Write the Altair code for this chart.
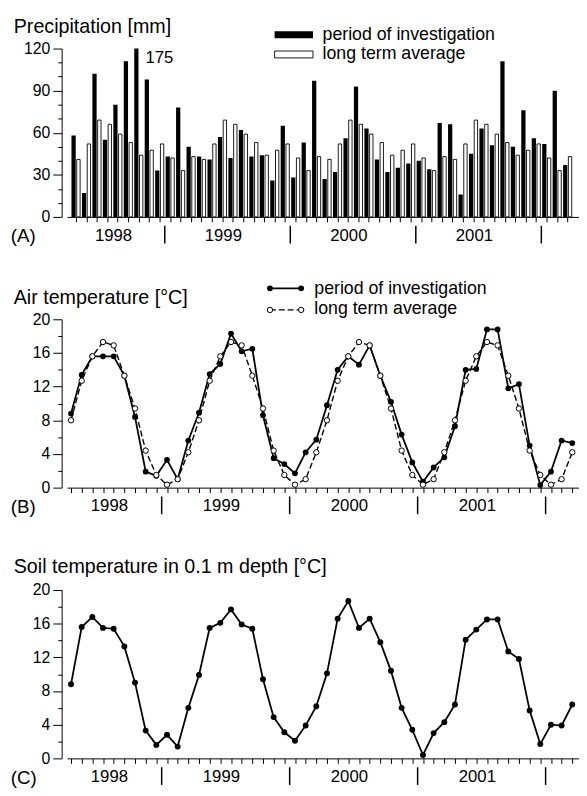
import altair as alt
import pandas as pd

FONT = "Liberation Sans"

# ---------------- data (April 1998 - March 2002, monthly) ----------------
month_dates = pd.date_range("1998-04-01", periods=48, freq="MS")

precip_obs = [58, 17, 102, 55, 80, 111, 175, 98, 33,
              43, 78, 50, 43, 41, 57, 42, 62, 43, 44, 26, 65,
              28, 53, 97, 27, 32, 56, 93, 63, 41, 32, 35, 38,
              40, 34, 67, 66, 16, 45, 63, 51, 111, 50, 76, 56,
              52, 90, 37]
precip_lt = [41, 52, 69, 66, 59, 53, 44, 47.5, 52,
             42, 33, 43, 41, 52, 69, 66, 59, 53, 44, 47.5, 52,
             42, 33, 43, 41, 52, 69, 66, 59, 53, 44, 47.5, 52,
             42, 33, 43, 41, 52, 69, 66, 59, 53, 44, 47.5, 52,
             42, 33, 43]
air_obs = [8.8, 13.4, 15.6, 15.6, 15.6, 13.3, 8.4, 1.9, 1.4,
           3.3, 1.0, 5.6, 8.9, 13.5, 14.7, 18.3, 16.2, 16.5, 8.6, 3.5, 2.8,
           1.7, 4.2, 5.7, 9.8, 14.0, 15.6, 14.6, 16.9, 13.3, 10.2, 6.3, 3.0,
           0.7, 2.4, 3.6, 7.3, 14.0, 14.1, 18.8, 18.8, 11.8, 12.3, 5.0, 0.3,
           1.9, 5.6, 5.3]
air_lt = [8.0, 12.7, 15.6, 17.3, 16.9, 13.3, 9.4, 4.4, 1.5,
          0.35, 1.0, 4.2, 8.0, 12.7, 15.6, 17.3, 16.9, 13.3, 9.4, 4.4, 1.5,
          0.35, 1.0, 4.2, 8.0, 12.7, 15.6, 17.3, 16.9, 13.3, 9.4, 4.4, 1.5,
          0.35, 1.0, 4.2, 8.0, 12.7, 15.6, 17.3, 16.9, 13.3, 9.4, 4.4, 1.5,
          0.35, 1.0, 4.2]
soil = [8.8, 15.6, 16.8, 15.5, 15.4, 13.3, 9.0, 3.3, 1.6,
        2.8, 1.4, 6.0, 9.9, 15.5, 16.1, 17.7, 15.9, 15.4, 9.4, 4.9, 3.1,
        2.1, 3.9, 6.2, 10.1, 16.6, 18.7, 15.5, 16.6, 13.8, 10.4, 6.0, 3.4,
        0.4, 3.0, 4.3, 6.4, 14.1, 15.3, 16.5, 16.5, 12.7, 11.8, 5.7, 1.7,
        4.0, 3.9, 6.4]

years = ["1998", "1999", "2000", "2001"]
precip_ticks = list(range(0, 121, 10))
temp_ticks = list(range(0, 21, 2))

titles = ["Precipitation [mm]", "Air temperature [°C]",
          "Soil temperature in 0.1 m depth [°C]"]
panel_tags = ["(A)", "(B)", "(C)"]
legend_names = ["period of investigation", "long term average"]

# ---------------- tables ----------------
t = list(range(len(month_dates)))
df = pd.DataFrame({
    "t": t,
    "year": month_dates.year.astype(str),
    "month": month_dates.month,
    "p_obs": precip_obs, "p_lt": precip_lt,
    "a_obs": air_obs, "a_lt": air_lt,
    "soil": soil,
})
year_df = df[df["year"].isin(years)].groupby("year", as_index=False)["t"].mean()
year_df["pos"] = year_df["t"] - 0.4
sep_df = pd.DataFrame({"sep": df.loc[df["month"] == 1, "t"] - 0.5})
one = pd.DataFrame({"k": [0]})

W, H = 520, 171
xscale = alt.Scale(domain=[-0.37, 47.63], nice=False, zero=False)
xaxis = alt.Axis(values=t, labels=False, tickSize=5, domain=True, grid=False,
                 title=None, tickColor="black", domainColor="black")


def yaxis(vals, major):
    return alt.Axis(values=vals,
                    labelExpr=f"datum.value % {major} === 0 ? datum.label : ''",
                    tickSize={"condition": {"test": f"datum.value % {major} === 0", "value": 9},
                              "value": 4},
                    offset=5.5, grid=False, title=None, labelPadding=3,
                    labelFontSize=16, labelFont=FONT, labelColor="black",
                    tickColor="black", domainColor="black")


def X(field):
    return alt.X(field, scale=xscale, axis=xaxis)


def text(s, x, y, size, align="left"):
    return alt.Chart(one).mark_text(text=s, align=align, baseline="middle", fontSize=size,
                                    font=FONT, color="black").encode(
        x=alt.value(x), y=alt.value(y))


def time_axis_deco(tag):
    yl = alt.Chart(year_df).mark_text(baseline="middle", fontSize=17, font=FONT,
                                      color="black").encode(
        x=X("pos:Q"), y=alt.value(H + 19), text="year:N")
    sep = alt.Chart(sep_df).mark_rule(strokeWidth=1.5, color="black").encode(
        x=X("sep:Q"), y=alt.value(H + 9), y2=alt.value(H + 27))
    return [yl, sep, text(tag, -57.2, H + 20, 19)]


# ---------------- panel A: precipitation ----------------
yA = alt.Scale(domain=[0, 120], nice=False, zero=True)
yaxA = yaxis(precip_ticks, 30)
bars_obs = alt.Chart(df).mark_bar(color="black", width=4.3, xOffset=-2.3, clip=True).encode(
    x=X("t:Q"), y=alt.Y("p_obs:Q", scale=yA, axis=yaxA))
bars_lt = alt.Chart(df).mark_bar(fill="white", stroke="black", strokeWidth=0.9,
                                 width=3.4, xOffset=2.6).encode(
    x=X("t:Q"), y=alt.Y("p_lt:Q", scale=yA, axis=yaxA))
big = alt.Chart(df).transform_filter("datum.p_obs > 120").mark_text(
    align="left", baseline="middle", dx=7, fontSize=17, font=FONT, color="black").encode(
    x=X("t:Q"), y=alt.value(10), text="p_obs:Q")
legA = [
    alt.Chart(one).mark_rect(color="black").encode(
        x=alt.value(210.8), x2=alt.value(249.8), y=alt.value(-17.5), y2=alt.value(-10.5)),
    alt.Chart(one).mark_rect(fill="white", stroke="black", strokeWidth=0.9).encode(
        x=alt.value(210.8), x2=alt.value(249.8), y=alt.value(2.5), y2=alt.value(9.5)),
    text(legend_names[0], 259.5, -14, 18),
    text(legend_names[1], 259.5, 6, 18),
]
panelA = alt.layer(bars_lt, bars_obs, big, *legA,
                   text(titles[0], -54.2, -22, 20),
                   *time_axis_deco(panel_tags[0])).properties(width=W, height=H)

# ---------------- panel B: air temperature ----------------
yT = alt.Scale(domain=[0, 20], nice=False, zero=True)
yaxT = yaxis(temp_ticks, 4)
a_obs_line = alt.Chart(df).mark_line(color="black", strokeWidth=1.8).encode(
    x=X("t:Q"), y=alt.Y("a_obs:Q", scale=yT, axis=yaxT))
a_lt_line = alt.Chart(df).mark_line(color="black", strokeWidth=1.4, strokeDash=[6, 3]).encode(
    x=X("t:Q"), y=alt.Y("a_lt:Q", scale=yT, axis=yaxT))
a_obs_pts = alt.Chart(df).mark_point(filled=True, color="black", size=34, opacity=1).encode(
    x=X("t:Q"), y=alt.Y("a_obs:Q", scale=yT, axis=yaxT))
a_lt_pts = alt.Chart(df).mark_point(filled=True, fill="white", stroke="black", strokeWidth=1,
                                    size=30, opacity=1).encode(
    x=X("t:Q"), y=alt.Y("a_lt:Q", scale=yT, axis=yaxT))
legB = [
    alt.Chart(one).mark_rule(color="black", strokeWidth=1.8).encode(
        x=alt.value(206.1), x2=alt.value(237.8), y=alt.value(-31.5)),
    alt.Chart(one).mark_rule(color="black", strokeWidth=1.4, strokeDash=[6, 3]).encode(
        x=alt.value(206.1), x2=alt.value(237.8), y=alt.value(-9.5)),
    alt.Chart(one).mark_point(filled=True, color="black", size=34, opacity=1).encode(
        x=alt.value(206.1), y=alt.value(-31.5)),
    alt.Chart(one).mark_point(filled=True, color="black", size=34, opacity=1).encode(
        x=alt.value(237.8), y=alt.value(-31.5)),
    alt.Chart(one).mark_point(filled=True, fill="white", stroke="black", strokeWidth=1,
                              size=30, opacity=1).encode(x=alt.value(206.1), y=alt.value(-9.5)),
    alt.Chart(one).mark_point(filled=True, fill="white", stroke="black", strokeWidth=1,
                              size=30, opacity=1).encode(x=alt.value(237.8), y=alt.value(-9.5)),
    text(legend_names[0], 251.1, -31, 18),
    text(legend_names[1], 251.1, -10, 18),
]
panelB = alt.layer(a_obs_line, a_lt_line, a_obs_pts, a_lt_pts, *legB,
                   text(titles[1], -54.2, -22, 20),
                   *time_axis_deco(panel_tags[1])).properties(width=W, height=H)

# ---------------- panel C: soil temperature ----------------
s_line = alt.Chart(df).mark_line(color="black", strokeWidth=1.8).encode(
    x=X("t:Q"), y=alt.Y("soil:Q", scale=yT, axis=yaxT))
s_pts = alt.Chart(df).mark_point(filled=True, color="black", size=36, opacity=1).encode(
    x=X("t:Q"), y=alt.Y("soil:Q", scale=yT, axis=yaxT))
panelC = alt.layer(s_line, s_pts,
                   text(titles[2], -54.2, -23, 20),
                   *time_axis_deco(panel_tags[2])).properties(width=W, height=H)

chart = alt.vconcat(panelA, panelB, panelC, spacing=104, bounds="flush").properties(
    padding={"left": 2, "top": 3, "right": 0, "bottom": 0}
).configure(font=FONT).configure_view(stroke=None).configure_axis(
    labelFont=FONT, labelColor="black", tickColor="black", domainColor="black", grid=False)

chart.save("out.html", embed_options={"renderer": "svg", "actions": False})
